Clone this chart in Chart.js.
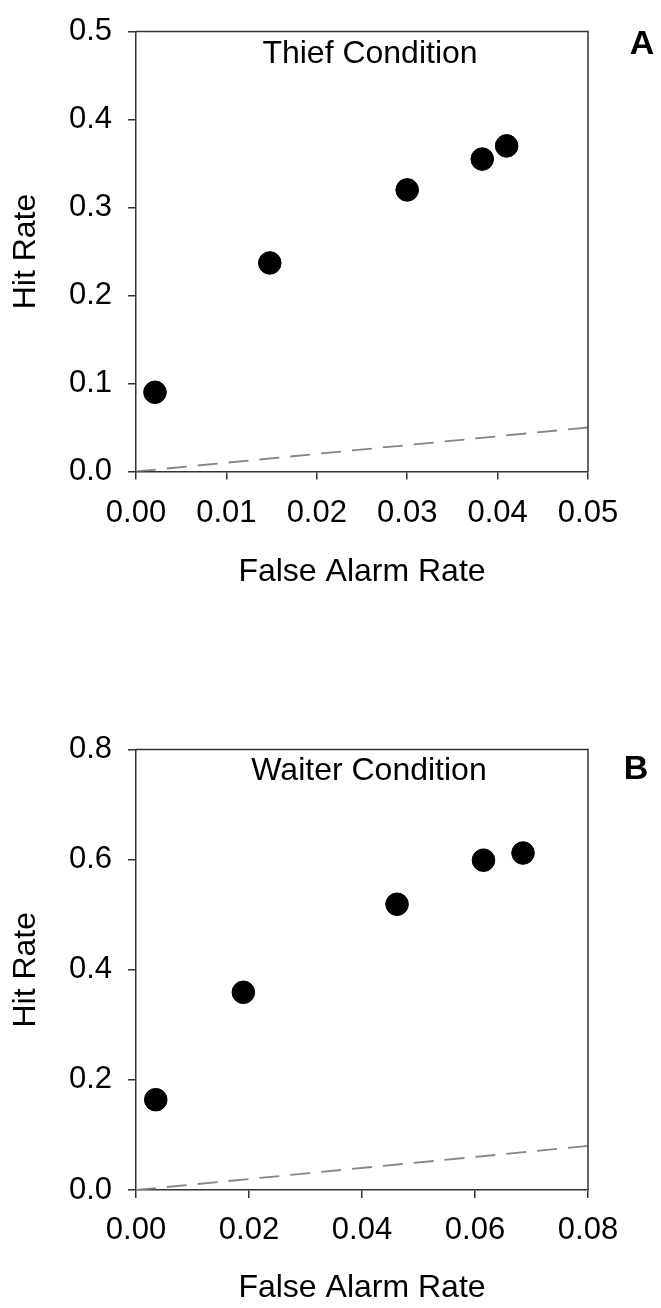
<!DOCTYPE html>
<html>
<head>
<meta charset="utf-8">
<script src="https://cdn.jsdelivr.net/npm/chart.js@4"></script>
<style>
  html, body { margin: 0; padding: 0; background: #fff; }
  #wrap { position: relative; width: 661px; height: 1308px; }
  canvas { position: absolute; left: 0; display: block; }
</style>
</head>
<body>
<div id="wrap">
  <canvas id="chartA" width="661" height="718" style="top:0px"></canvas>
  <canvas id="chartB" width="661" height="590" style="top:718px"></canvas>
</div>
<script>
// ---- Data ----
const thiefFalseAlarm = [0.0021, 0.0148, 0.0300, 0.0383, 0.0410];
const thiefHit        = [0.090, 0.237, 0.320, 0.355, 0.370];
const waiterFalseAlarm = [0.0035, 0.0190, 0.0462, 0.0615, 0.0685];
const waiterHit        = [0.164, 0.359, 0.519, 0.599, 0.612];
const chanceA = [0, 0.05];   // diagonal hit = false alarm
const chanceB = [0, 0.08];
const xTicksA = [0.00, 0.01, 0.02, 0.03, 0.04, 0.05];
const yTicksA = [0.0, 0.1, 0.2, 0.3, 0.4, 0.5];
const xTicksB = [0.00, 0.02, 0.04, 0.06, 0.08];
const yTicksB = [0.0, 0.2, 0.4, 0.6, 0.8];
const labelA = 'Thief Condition';
const labelB = 'Waiter Condition';
const panelA = 'A';
const panelB = 'B';
const xTitle = 'False Alarm Rate';
const yTitle = 'Hit Rate';

const FONT = "'Liberation Sans', Arial, Helvetica, sans-serif";
const AXIS = '#333333';

function pts(xs, ys) { return xs.map((x, i) => ({ x: x, y: ys[i] })); }

function makeChart(id, o) {
  const boxPlugin = {
    id: 'boxAndText',
    afterDraw(chart) {
      const ctx = chart.ctx, a = chart.chartArea;
      ctx.save();
      ctx.strokeStyle = AXIS;
      ctx.lineWidth = 1.5;
      ctx.beginPath();
      ctx.moveTo(a.left, a.top);
      ctx.lineTo(a.right, a.top);
      ctx.lineTo(a.right, a.bottom);
      ctx.stroke();
      ctx.fillStyle = '#000';
      ctx.textAlign = 'center';
      ctx.textBaseline = 'alphabetic';
      ctx.font = '32px ' + FONT;
      ctx.fillText(o.label, o.labelX, o.labelY);
      ctx.font = 'bold 34px ' + FONT;
      ctx.fillText(o.panel, o.panelX, o.panelY);
      ctx.restore();
    }
  };
  return new Chart(document.getElementById(id), {
    type: 'scatter',
    data: {
      datasets: [
        {
          type: 'line',
          data: pts(o.chance, o.chance),
          borderColor: '#858585',
          borderWidth: 1.8,
          borderDash: [20, 11],
          pointRadius: 0,
          fill: false,
          order: 2
        },
        {
          data: pts(o.xs, o.ys),
          backgroundColor: '#000',
          borderColor: '#000',
          pointRadius: 11.3,
          pointHoverRadius: 11.3,
          order: 1
        }
      ]
    },
    options: {
      responsive: false,
      animation: false,
      events: [],
      layout: { padding: { top: 21.5, right: 73, left: 0, bottom: o.padBottom } },
      plugins: { legend: { display: false }, tooltip: { enabled: false } },
      scales: {
        x: {
          type: 'linear',
          min: o.xTicks[0], max: o.xTicks[o.xTicks.length - 1],
          afterBuildTicks: s => { s.ticks = o.xTicks.map(v => ({ value: v })); },
          afterFit: s => { s.height = 118; },
          grid: { drawOnChartArea: false, drawTicks: true, tickLength: 8, color: AXIS, lineWidth: 1.5 },
          border: { display: true, color: AXIS, width: 1.5 },
          ticks: {
            padding: o.xTickPad, color: '#000',
            font: { family: FONT, size: 31, lineHeight: 1 },
            maxRotation: 0, autoSkip: false,
            callback: v => Number(v).toFixed(2)
          },
          title: {
            display: true, text: xTitle, color: '#000',
            font: { family: FONT, size: 32, lineHeight: 1 },
            padding: { top: 0, bottom: o.xTitlePad }
          }
        },
        y: {
          type: 'linear',
          min: o.yTicks[0], max: o.yTicks[o.yTicks.length - 1],
          afterBuildTicks: s => { s.ticks = o.yTicks.map(v => ({ value: v })); },
          afterFit: s => { s.width = 136; },
          grid: { drawOnChartArea: false, drawTicks: true, tickLength: 8, color: AXIS, lineWidth: 1.5 },
          border: { display: true, color: AXIS, width: 1.5 },
          ticks: {
            padding: 16, color: '#000',
            font: { family: FONT, size: 31, lineHeight: 1 },
            autoSkip: false,
            callback: v => Number(v).toFixed(1)
          },
          title: {
            display: true, text: yTitle, color: '#000',
            font: { family: FONT, size: 32, lineHeight: 1 },
            padding: { top: 10, bottom: 0 }
          }
        }
      }
    },
    plugins: [boxPlugin]
  });
}

makeChart('chartA', {
  xs: thiefFalseAlarm, ys: thiefHit, chance: chanceA,
  xTicks: xTicksA, yTicks: yTicksA,
  label: labelA, labelX: 370, labelY: 63,
  panel: panelA, panelX: 642, panelY: 54,
  padBottom: 718 - 471.5 - 118, xTickPad: 18, xTitlePad: 1.5
});
makeChart('chartB', {
  xs: waiterFalseAlarm, ys: waiterHit, chance: chanceB,
  xTicks: xTicksB, yTicks: yTicksB,
  label: labelB, labelX: 369, labelY: 62,
  panel: panelB, panelX: 636, panelY: 61,
  padBottom: 0, xTickPad: 17, xTitlePad: 3.5
});
</script>
</body>
</html>
